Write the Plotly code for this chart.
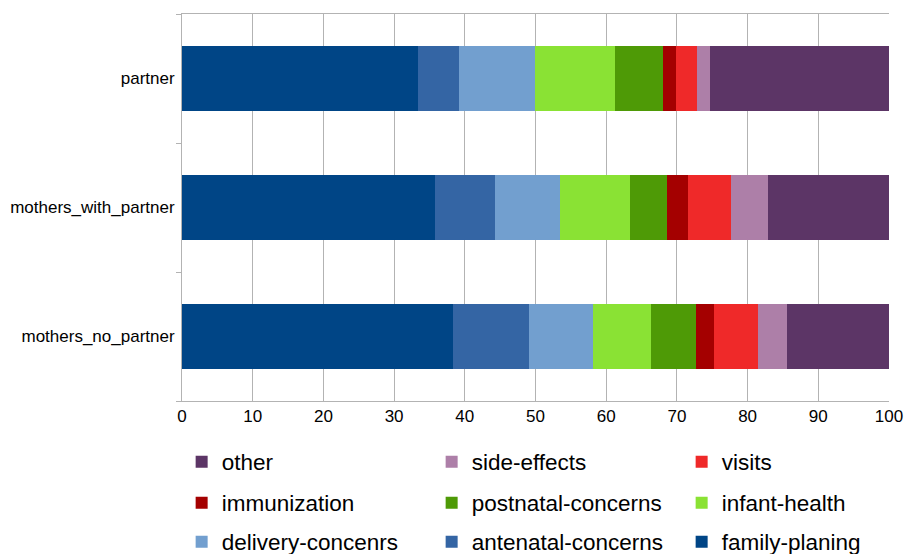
import plotly.graph_objects as go

# categories, bottom to top as plotly stacks them
groups = ["mothers_no_partner", "mothers_with_partner", "partner"]

# share of each topic (%), same order as groups
family_planing = [38.3, 35.8, 33.4]
antenatal_concerns = [10.8, 8.5, 5.8]
delivery_concenrs = [9.1, 9.2, 10.7]
infant_health = [8.1, 9.8, 11.3]
postnatal_concerns = [6.4, 5.3, 6.8]
immunization = [2.6, 2.9, 1.9]
visits = [6.1, 6.2, 3.0]
side_effects = [4.2, 5.2, 1.8]
other = [14.4, 17.1, 25.3]

series = [
    ("family-planing", family_planing, "#004586", "legend3"),
    ("antenatal-concerns", antenatal_concerns, "#3465a4", "legend3"),
    ("delivery-concenrs", delivery_concenrs, "#729fcf", "legend3"),
    ("infant-health", infant_health, "#8ae234", "legend2"),
    ("postnatal-concerns", postnatal_concerns, "#4e9a06", "legend2"),
    ("immunization", immunization, "#a40000", "legend2"),
    ("visits", visits, "#ef2929", "legend"),
    ("side-effects", side_effects, "#ad7fa8", "legend"),
    ("other", other, "#5c3566", "legend"),
]

fig = go.Figure()
for name, vals, color, leg in series:
    fig.add_trace(go.Bar(
        y=groups, x=vals, name=name, orientation="h",
        marker=dict(color=color, line=dict(width=0)),
        legend=leg,
    ))

font = "Liberation Sans, Arial, sans-serif"

plot_top, plot_h = 14, 387
row_y = [462, 503, 542]


def legend_row(y_px):
    return dict(
        orientation="h", traceorder="reversed",
        xref="paper", yref="paper",
        x=-0.0005, y=(plot_top + plot_h - y_px) / plot_h,
        xanchor="left", yanchor="middle",
        entrywidth=205, entrywidthmode="pixels",
        font=dict(family=font, size=22.5, color="#000000"),
        bgcolor="rgba(0,0,0,0)",
    )


fig.update_layout(
    width=904, height=554,
    barmode="stack", bargap=0.5,
    margin=dict(l=182, r=15, t=plot_top, b=554 - plot_top - plot_h,
                autoexpand=False),
    paper_bgcolor="white", plot_bgcolor="white",
    font=dict(family=font, size=17, color="#000000"),
    showlegend=True,
    legend=legend_row(row_y[0]),
    legend2=legend_row(row_y[1]),
    legend3=legend_row(row_y[2]),
    xaxis=dict(
        range=[0, 100], dtick=10, showgrid=True, gridcolor="#b3b3b3",
        zeroline=False, showline=True, linecolor="#b3b3b3", mirror=True,
        ticks="", tickfont=dict(size=17), automargin=False,
    ),
    yaxis=dict(
        categoryorder="array", categoryarray=groups,
        showgrid=False, showline=True, linecolor="#b3b3b3",
        ticks="outside", tickson="boundaries", ticklen=5, tickcolor="#b3b3b3",
        tickfont=dict(size=17), ticklabelstandoff=3, automargin=False,
    ),
)

# drop the default page margin so the figure sits at the window corner
fig.write_html(
    "out.html",
    config={"displayModeBar": False},
    post_script="document.body.style.margin = '0';",
)
